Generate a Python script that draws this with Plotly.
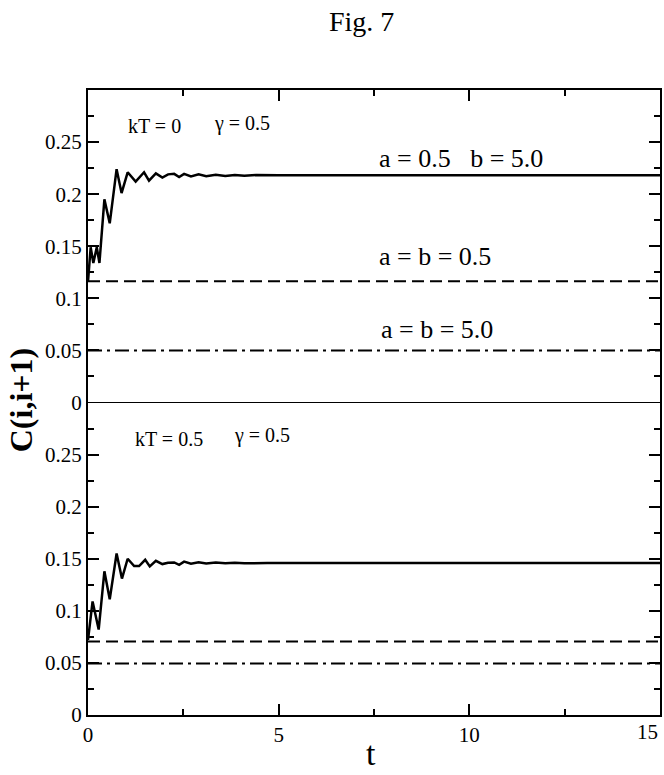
import plotly.graph_objects as go

# ---------------- data ----------------
t_top = [0.00, 0.07, 0.14, 0.23, 0.30, 0.43, 0.57, 0.75, 0.88, 1.04, 1.25, 1.47,
         1.60, 1.78, 1.95, 2.10, 2.26, 2.39, 2.52, 2.70, 2.90, 3.10, 3.35, 3.60,
         3.85, 4.10, 4.40, 4.70, 5.00, 15.0]
c_top = [0.116, 0.149, 0.134, 0.149, 0.134, 0.195, 0.172, 0.224, 0.201, 0.221,
         0.212, 0.221, 0.213, 0.220, 0.216, 0.219, 0.2195, 0.2165, 0.2195, 0.217,
         0.219, 0.2172, 0.2186, 0.2175, 0.2184, 0.2178, 0.2183, 0.218, 0.2182, 0.2181]

t_bot = [0.00, 0.12, 0.28, 0.43, 0.57, 0.75, 0.89, 1.04, 1.21, 1.34, 1.50, 1.62,
         1.78, 1.95, 2.10, 2.26, 2.39, 2.52, 2.70, 2.90, 3.10, 3.35, 3.60, 3.85,
         4.10, 4.40, 4.70, 5.00, 15.0]
c_bot = [0.072, 0.109, 0.082, 0.138, 0.111, 0.155, 0.131, 0.150, 0.143, 0.143,
         0.149, 0.1426, 0.148, 0.1449, 0.1462, 0.1465, 0.1442, 0.1472, 0.1452,
         0.1466, 0.1454, 0.1463, 0.1456, 0.1462, 0.1457, 0.1461, 0.1458, 0.146, 0.1459]

t_flat = [0, 15]
top_ab05 = [0.1163, 0.1163]
top_ab50 = [0.050, 0.050]
bot_ab05 = [0.0705, 0.0705]
bot_ab50 = [0.0495, 0.0495]

ytick_vals = [0, 0.05, 0.1, 0.15, 0.2, 0.25]
ytick_text = ["0", "0.05", "0.1", "0.15", "0.2", "0.25"]
xtick_vals = [0, 5, 10, 15]
xtick_text = ["0", "5", "10", ""]
last_xtick_label = "15"

FONT = "Liberation Serif"

fig = go.Figure()

# top panel
fig.add_trace(go.Scatter(x=t_top, y=c_top, mode="lines", xaxis="x2", yaxis="y2",
                         line=dict(color="black", width=2.5)))
fig.add_trace(go.Scatter(x=t_flat, y=top_ab05, mode="lines", xaxis="x2", yaxis="y2",
                         line=dict(color="black", width=2, dash="12px,6px")))
fig.add_trace(go.Scatter(x=t_flat, y=top_ab50, mode="lines", xaxis="x2", yaxis="y2",
                         line=dict(color="black", width=2, dash="14px,5px,3px,5px")))
# bottom panel
fig.add_trace(go.Scatter(x=t_bot, y=c_bot, mode="lines", xaxis="x", yaxis="y",
                         line=dict(color="black", width=2.5)))
fig.add_trace(go.Scatter(x=t_flat, y=bot_ab05, mode="lines", xaxis="x", yaxis="y",
                         line=dict(color="black", width=2, dash="12px,6px")))
fig.add_trace(go.Scatter(x=t_flat, y=bot_ab50, mode="lines", xaxis="x", yaxis="y",
                         line=dict(color="black", width=2, dash="14px,5px,3px,5px")))

yax = dict(range=[0, 0.3], tickvals=ytick_vals, ticktext=ytick_text,
           ticks="inside", ticklen=11, tickwidth=2, tickcolor="black",
           minor=dict(tickvals=[0.025, 0.075, 0.125, 0.175, 0.225, 0.275],
                      ticks="inside", ticklen=6, tickwidth=2, tickcolor="black"),
           showline=True, linewidth=2, linecolor="black", mirror="ticks",
           showgrid=False, zeroline=False,
           tickfont=dict(family=FONT, size=21, color="black"))

fig.update_layout(
    width=664, height=775,
    margin=dict(l=88, r=2, t=90, b=60),
    paper_bgcolor="white", plot_bgcolor="white",
    showlegend=False,
    xaxis=dict(range=[0, 15], anchor="y", tickvals=xtick_vals, ticktext=xtick_text,
               ticks="inside", ticklen=11, tickwidth=2, tickcolor="black",
               minor=dict(tickvals=[2.5, 7.5, 12.5], ticks="inside", ticklen=6,
                          tickwidth=2, tickcolor="black"),
               showline=True, linewidth=2, linecolor="black", mirror=False,
               showgrid=False, zeroline=False,
               tickfont=dict(family=FONT, size=21, color="black")),
    xaxis2=dict(range=[0, 15], anchor="y2", matches="x", side="top",
                showticklabels=False, tickvals=xtick_vals,
                ticks="inside", ticklen=11, tickwidth=2, tickcolor="black",
                minor=dict(tickvals=[2.5, 7.5, 12.5], ticks="inside", ticklen=6,
                           tickwidth=2, tickcolor="black"),
                showline=True, linewidth=2, linecolor="black", mirror=False,
                showgrid=False, zeroline=False),
    yaxis=dict(domain=[0, 0.5], anchor="x", **yax),
    yaxis2=dict(domain=[0.5, 1], anchor="x2", **yax),
)

# thin separating line between panels
fig.add_shape(type="line", xref="x domain", yref="y domain", x0=0, x1=1, y0=1, y1=1,
              line=dict(color="black", width=1.2))

def ann(text, x, y, xref, yref, size, **kw):
    fig.add_annotation(text=text, x=x, y=y, xref=xref, yref=yref, showarrow=False,
                       font=dict(family=FONT, size=size, color="black"), **kw)

ann("kT = 0", 1.75, 0.265, "x2", "y2", 20)
ann("γ = 0.5", 4.05, 0.268, "x2", "y2", 20)
ann("a = 0.5   b = 5.0", 9.77, 0.234, "x2", "y2", 26)
ann("a = b = 0.5", 9.1, 0.1405, "x2", "y2", 26)
ann("a = b = 5.0", 9.15, 0.0705, "x2", "y2", 26)
ann("kT = 0.5", 2.12, 0.265, "x", "y", 20)
ann("γ = 0.5", 4.55, 0.268, "x", "y", 20)

# last x tick label, kept inside the page like in the reference
ann(last_xtick_label, xtick_vals[-1], 0, "x", "paper", 21,
    xanchor="right", yanchor="top", yshift=-3)

ann("Fig. 7", 0.479, 1.109, "paper", "paper", 28, yanchor="middle")
ann("t", 0.495, -0.0944, "paper", "paper", 34, yanchor="bottom")
fig.add_annotation(text="<b>C(i,i+1)</b>", x=-0.1167, y=0.504, xref="paper", yref="paper",
                   showarrow=False, textangle=-90, xanchor="center", yanchor="middle",
                   font=dict(family=FONT, size=32, color="black"))

fig.write_html("out.html", config={"displayModeBar": False},
               post_script="document.body.style.margin='0';document.body.style.overflow='hidden';")
